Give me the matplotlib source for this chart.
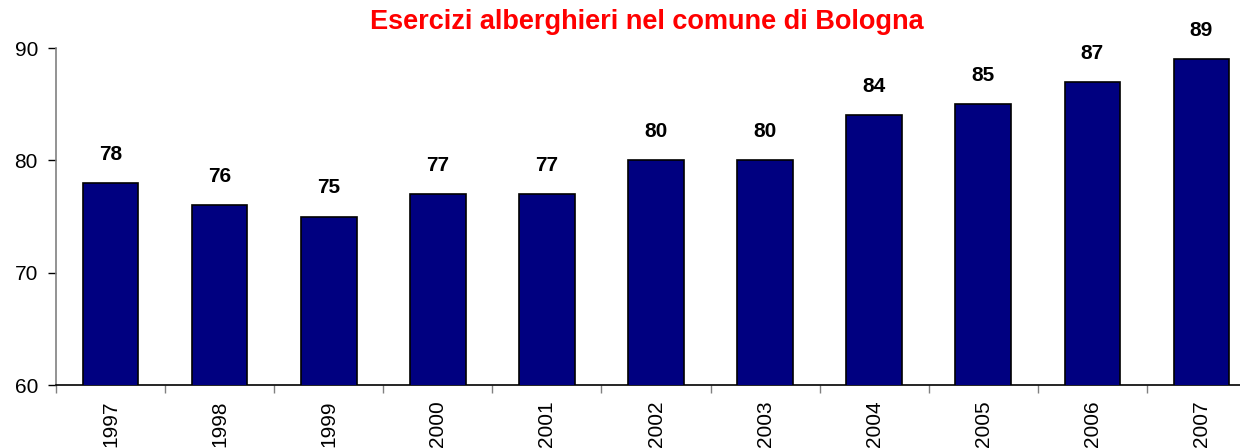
import numpy as np
import matplotlib.pyplot as plt

years = ["1997", "1998", "1999", "2000", "2001", "2002",
         "2003", "2004", "2005", "2006", "2007"]
esercizi = [78, 76, 75, 77, 77, 80, 80, 84, 85, 87, 89]

plt.rcParams['font.family'] = ['Liberation Sans', 'DejaVu Sans']

fig = plt.figure(figsize=(12.4, 4.48), dpi=100)
ax = fig.add_axes([0.0452, 0.1406, 0.9677, 0.7522])

x = np.arange(len(years))
ax.bar(x, esercizi, width=0.51, color="#000080", edgecolor="black",
       linewidth=1.2, zorder=3)

for xi, v in zip(x, esercizi):
    ax.text(xi, v + 1.7, str(v), ha="center", va="bottom",
            fontsize=15, fontweight="bold")

ax.set_xlim(-0.5, len(years) - 0.5)
ax.set_ylim(60, 90)
ax.set_yticks([60, 70, 80, 90])
ax.tick_params(axis="y", labelsize=15, length=6, width=1, color="black",
               pad=7)

# ticks on category boundaries, labels centred under bars
ax.set_xticks(np.arange(len(years) + 1) - 0.5)
ax.set_xticklabels([])
ax.set_xticks(x, minor=True)
ax.set_xticklabels(years, minor=True, rotation=90, fontsize=15)
ax.tick_params(axis="x", which="major", length=6, width=1, color="gray")
ax.tick_params(axis="x", which="minor", length=0, pad=11)

for s in ["top", "right"]:
    ax.spines[s].set_visible(False)
ax.spines["left"].set_color("gray")
ax.spines["left"].set_linewidth(1.2)
ax.spines["bottom"].set_color("black")
ax.spines["bottom"].set_linewidth(1.2)

fig.text(0.522, 0.951, "Esercizi alberghieri nel comune di Bologna",
         color="red", fontsize=19.5, fontweight="bold", ha="center",
         va="center")

fig.savefig("out.png", dpi=100)
